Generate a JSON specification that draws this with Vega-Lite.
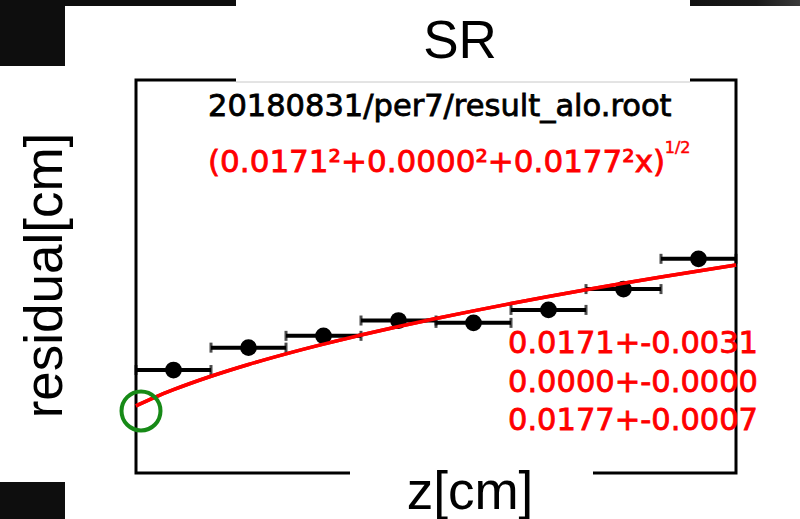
{
  "$schema": "https://vega.github.io/schema/vega-lite/v6.json",
  "width": 600,
  "height": 393,
  "autosize": {"type": "none"},
  "padding": {"left": 136, "top": 80, "right": 64, "bottom": 46},
  "background": "white",
  "config": {"view": {"stroke": "black", "strokeWidth": 3}, "font": "DejaVu Sans"},
  "datasets": {
    "bins": [
      {"lo": 0, "hi": 1, "z": 0.5, "r": 0.0262, "rlo": 0.0254, "rhi": 0.0270},
      {"lo": 1, "hi": 2, "z": 1.5, "r": 0.0319, "rlo": 0.0310, "rhi": 0.0328},
      {"lo": 2, "hi": 3, "z": 2.5, "r": 0.0349, "rlo": 0.0340, "rhi": 0.0358},
      {"lo": 3, "hi": 4, "z": 3.5, "r": 0.0388, "rlo": 0.0378, "rhi": 0.0398},
      {"lo": 4, "hi": 5, "z": 4.5, "r": 0.0382, "rlo": 0.0372, "rhi": 0.0392},
      {"lo": 5, "hi": 6, "z": 5.5, "r": 0.0415, "rlo": 0.0400, "rhi": 0.0430},
      {"lo": 6, "hi": 7, "z": 6.5, "r": 0.0468, "rlo": 0.0455, "rhi": 0.0481},
      {"lo": 7, "hi": 8, "z": 7.5, "r": 0.0545, "rlo": 0.0527, "rhi": 0.0563}
    ],
    "fit": [
      {"x": 0, "y": 0.0171},
      {"x": 0.25, "y": 0.019254},
      {"x": 0.5, "y": 0.021191},
      {"x": 1, "y": 0.024611},
      {"x": 1.5, "y": 0.027611},
      {"x": 2, "y": 0.030315},
      {"x": 2.5, "y": 0.032797},
      {"x": 3, "y": 0.035104},
      {"x": 3.5, "y": 0.037268},
      {"x": 4, "y": 0.039314},
      {"x": 4.5, "y": 0.041258},
      {"x": 5, "y": 0.043115},
      {"x": 5.5, "y": 0.044895},
      {"x": 6, "y": 0.046607},
      {"x": 6.5, "y": 0.048258},
      {"x": 7, "y": 0.049854},
      {"x": 7.5, "y": 0.051401},
      {"x": 8, "y": 0.052903}
    ],
    "one": [{}]
  },
  "layer": [
    {
      "data": {"name": "fit"},
      "mark": {"type": "line", "color": "#ff0000", "strokeWidth": 3.5, "interpolate": "monotone"},
      "encoding": {
        "x": {
          "field": "x", "type": "quantitative",
          "scale": {"domain": [0, 8], "nice": false, "zero": false},
          "axis": {
            "values": [0,0.2,0.4,0.6,0.8,1,1.2,1.4,1.6,1.8,2,2.2,2.4,2.6,2.8,3,3.2,3.4,3.6,3.8,4,4.2,4.4,4.6,4.8,5,5.2,5.4,5.6,5.8,6,6.2,6.4,6.6,6.8,7,7.2,7.4,7.6,7.8,8],
            "tickCount": 100,
            "ticks": true,
            "labelExpr": "abs(datum.value-round(datum.value))<0.001 && (datum.value<2.85 || datum.value>6.09) ? toString(round(datum.value)) : ''",
            "labelOverlap": false, "labelFlush": false,
            "labelFont": "DejaVu Sans", "labelFontSize": 15, "labelColor": "#7a7a7a",
            "labelPadding": 13,
            "tickSize": {"condition": {"test": "abs(datum.value-round(datum.value))<0.001", "value": -10}, "value": -5},
            "tickColor": "#000000", "tickWidth": 3,
            "domain": false,
            "grid": true, "gridColor": "#222222", "gridDash": [2, 3], "gridWidth": 1.5,
            "gridOpacity": {"condition": {"test": "abs(datum.value-round(datum.value))<0.001", "value": 1}, "value": 0},
            "title": "z[cm]", "titleFont": "DejaVu Sans", "titleFontSize": 14, "titleFontWeight": "normal", "titleColor": "#7a7a7a",
            "titleX": 602, "titleY": 27, "titleAlign": "right", "titleBaseline": "alphabetic", "titleAnchor": "end",
            "zindex": 0
          }
        },
        "y": {
          "field": "y", "type": "quantitative",
          "scale": {"domain": [0, 0.1], "nice": false, "zero": false},
          "axis": {
            "values": [0,0.002,0.004,0.006,0.008,0.01,0.012,0.014,0.016,0.018,0.02,0.022,0.024,0.026,0.028,0.03,0.032,0.034,0.036,0.038,0.04,0.042,0.044,0.046,0.048,0.05,0.052,0.054,0.056,0.058,0.06,0.062,0.064,0.066,0.068,0.07,0.072,0.074,0.076,0.078,0.08,0.082,0.084,0.086,0.088,0.09,0.092,0.094,0.096,0.098,0.1],
            "tickCount": 100,
            "ticks": true,
            "labelExpr": "abs(datum.value*100-round(datum.value*100))<0.01 ? toString(round(datum.value*100)/100) : ''",
            "labelOverlap": false, "labelFlush": false,
            "labelFont": "DejaVu Sans", "labelFontSize": 15, "labelColor": "#7a7a7a",
            "labelPadding": 21,
            "tickSize": {"condition": {"test": "abs(datum.value*100-round(datum.value*100))<0.01", "value": -12}, "value": -6},
            "tickColor": "#000000", "tickWidth": 3,
            "domain": false,
            "grid": true, "gridColor": "#222222", "gridDash": [2, 3], "gridWidth": 1.5,
            "gridOpacity": {"condition": {"test": "abs(datum.value*100-round(datum.value*100))<0.01", "value": 1}, "value": 0},
            "title": "residual[cm]", "titleFont": "DejaVu Sans", "titleFontSize": 14, "titleFontWeight": "normal", "titleColor": "#7a7a7a",
            "titleAngle": -90, "titleX": -43, "titleY": -2, "titleAlign": "right", "titleBaseline": "middle", "titleAnchor": "end",
            "zindex": 0
          }
        }
      }
    },
    {
      "data": {"name": "bins"},
      "mark": {"type": "rule", "color": "black", "strokeWidth": 4},
      "encoding": {
        "x": {"field": "lo", "type": "quantitative", "axis": null},
        "x2": {"field": "hi"},
        "y": {"field": "r", "type": "quantitative", "axis": null}
      }
    },
    {
      "data": {"name": "bins"},
      "mark": {"type": "tick", "orient": "vertical", "color": "black", "size": 10, "thickness": 3},
      "encoding": {
        "x": {"field": "lo", "type": "quantitative", "axis": null},
        "y": {"field": "r", "type": "quantitative", "axis": null}
      }
    },
    {
      "data": {"name": "bins"},
      "mark": {"type": "tick", "orient": "vertical", "color": "black", "size": 10, "thickness": 3},
      "encoding": {
        "x": {"field": "hi", "type": "quantitative", "axis": null},
        "y": {"field": "r", "type": "quantitative", "axis": null}
      }
    },
    {
      "data": {"name": "bins"},
      "mark": {"type": "rule", "color": "black", "strokeWidth": 4},
      "encoding": {
        "x": {"field": "z", "type": "quantitative", "axis": null},
        "y": {"field": "rlo", "type": "quantitative", "axis": null},
        "y2": {"field": "rhi"}
      }
    },
    {
      "data": {"name": "bins"},
      "mark": {"type": "point", "shape": "circle", "filled": true, "color": "black", "size": 280, "opacity": 1},
      "encoding": {
        "x": {"field": "z", "type": "quantitative", "axis": null},
        "y": {"field": "r", "type": "quantitative", "axis": null}
      }
    },
    {
      "data": {"name": "fit"},
      "mark": {"type": "line", "color": "#ff0000", "strokeWidth": 3.5, "interpolate": "monotone"},
      "encoding": {
        "x": {"field": "x", "type": "quantitative", "axis": null},
        "y": {"field": "y", "type": "quantitative", "axis": null}
      }
    },
    {
      "data": {"name": "one"},
      "mark": {"type": "text", "clip": false, "align": "left", "baseline": "alphabetic", "font": "DejaVu Sans", "fontSize": 30.5, "color": "black", "stroke": "black", "strokeWidth": 0.8},
      "encoding": {
        "x": {"datum": 0.96, "type": "quantitative", "axis": null},
        "y": {"datum": 0.09084, "type": "quantitative", "axis": null},
        "text": {"value": "20180831/per7/result_alo.root"}
      }
    },
    {
      "data": {"name": "one"},
      "mark": {"type": "text", "clip": false, "align": "left", "baseline": "alphabetic", "font": "DejaVu Sans", "fontSize": 31, "color": "#ff0000", "stroke": "#ff0000", "strokeWidth": 0.8},
      "encoding": {
        "x": {"datum": 0.96, "type": "quantitative", "axis": null},
        "y": {"datum": 0.07659, "type": "quantitative", "axis": null},
        "text": {"value": "(0.0171²+0.0000²+0.0177²x)"}
      }
    },
    {
      "data": {"name": "one"},
      "mark": {"type": "text", "clip": false, "align": "left", "baseline": "alphabetic", "font": "DejaVu Sans", "fontSize": 16, "color": "#ff0000", "stroke": "#ff0000", "strokeWidth": 0.5},
      "encoding": {
        "x": {"datum": 7.05, "type": "quantitative", "axis": null},
        "y": {"datum": 0.0815, "type": "quantitative", "axis": null},
        "text": {"value": "1/2"}
      }
    },
    {
      "data": {"name": "one"},
      "mark": {"type": "text", "clip": false, "align": "left", "baseline": "alphabetic", "font": "DejaVu Sans", "fontSize": 30.5, "lineHeight": 38.5, "color": "#ff0000", "stroke": "#ff0000", "strokeWidth": 0.8},
      "encoding": {
        "x": {"datum": 4.96, "type": "quantitative", "axis": null},
        "y": {"datum": 0.030534, "type": "quantitative", "axis": null},
        "text": {"value": ["0.0171+-0.0031", "0.0000+-0.0000", "0.0177+-0.0007"]}
      }
    },
    {
      "data": {"name": "one"},
      "mark": {"type": "point", "clip": false, "shape": "circle", "filled": false, "stroke": "#178a17", "strokeWidth": 4, "size": 1520, "opacity": 1},
      "encoding": {
        "x": {"datum": 0.0667, "type": "quantitative", "axis": null},
        "y": {"datum": 0.01578, "type": "quantitative", "axis": null}
      }
    },
    {
      "data": {"name": "one"},
      "mark": {"type": "rect", "clip": false, "color": "white"},
      "encoding": {
        "x": {"datum": 1.3333, "type": "quantitative", "axis": null},
        "x2": {"datum": 7.3867},
        "y": {"datum": 0.11883, "type": "quantitative", "axis": null},
        "y2": {"datum": 0.09949}
      }
    },
    {
      "data": {"name": "one"},
      "mark": {"type": "rule", "clip": false, "color": "#c8c8c8", "strokeWidth": 1},
      "encoding": {
        "x": {"datum": 1.3333, "type": "quantitative", "axis": null},
        "x2": {"datum": 7.3867},
        "y": {"datum": 0.09949, "type": "quantitative", "axis": null}
      }
    },
    {
      "data": {"name": "one"},
      "mark": {"type": "rect", "clip": false, "color": "white"},
      "encoding": {
        "x": {"datum": 2.8533, "type": "quantitative", "axis": null},
        "x2": {"datum": 6.0933},
        "y": {"datum": 0.006616, "type": "quantitative", "axis": null},
        "y2": {"datum": -0.011705}
      }
    },
    {
      "data": {"name": "one"},
      "mark": {"type": "rect", "clip": false, "color": "#0e0e0e"},
      "encoding": {
        "x": {"datum": -1.8133, "type": "quantitative", "axis": null},
        "x2": {"datum": 1.3333},
        "y": {"datum": 0.12036, "type": "quantitative", "axis": null},
        "y2": {"datum": 0.11883}
      }
    },
    {
      "data": {"name": "one"},
      "mark": {"type": "rect", "clip": false, "color": "#0e0e0e"},
      "encoding": {
        "x": {"datum": -1.8133, "type": "quantitative", "axis": null},
        "x2": {"datum": -0.9467},
        "y": {"datum": 0.12036, "type": "quantitative", "axis": null},
        "y2": {"datum": 0.10356}
      }
    },
    {
      "data": {"name": "one"},
      "mark": {"type": "rect", "clip": false, "color": {"gradient": "linear", "stops": [{"offset": 0, "color": "#121212"}, {"offset": 0.6, "color": "#1a1a1a"}, {"offset": 1, "color": "#3a3a3a"}]}},
      "encoding": {
        "x": {"datum": 7.3867, "type": "quantitative", "axis": null},
        "x2": {"datum": 8.8533},
        "y": {"datum": 0.12036, "type": "quantitative", "axis": null},
        "y2": {"datum": 0.11883}
      }
    },
    {
      "data": {"name": "one"},
      "mark": {"type": "rect", "clip": false, "color": "#0e0e0e"},
      "encoding": {
        "x": {"datum": -1.8133, "type": "quantitative", "axis": null},
        "x2": {"datum": -0.9467},
        "y": {"datum": -0.00229, "type": "quantitative", "axis": null},
        "y2": {"datum": -0.011705}
      }
    },
    {
      "data": {"name": "one"},
      "mark": {"type": "text", "clip": false, "align": "center", "baseline": "alphabetic", "font": "Liberation Sans", "fontSize": 53, "color": "black"},
      "encoding": {
        "x": {"datum": 4.32, "type": "quantitative", "axis": null},
        "y": {"datum": 0.1056, "type": "quantitative", "axis": null},
        "text": {"value": "SR"}
      }
    },
    {
      "data": {"name": "one"},
      "mark": {"type": "text", "clip": false, "align": "center", "baseline": "alphabetic", "font": "Liberation Sans", "fontSize": 53, "color": "black"},
      "encoding": {
        "x": {"datum": 4.4533, "type": "quantitative", "axis": null},
        "y": {"datum": -0.00916, "type": "quantitative", "axis": null},
        "text": {"value": "z[cm]"}
      }
    },
    {
      "data": {"name": "one"},
      "mark": {"type": "text", "clip": false, "align": "center", "baseline": "alphabetic", "angle": 270, "font": "Liberation Sans", "fontSize": 53, "color": "black"},
      "encoding": {
        "x": {"datum": -0.9867, "type": "quantitative", "axis": null},
        "y": {"datum": 0.05025, "type": "quantitative", "axis": null},
        "text": {"value": "residual[cm]"}
      }
    }
  ]
}
